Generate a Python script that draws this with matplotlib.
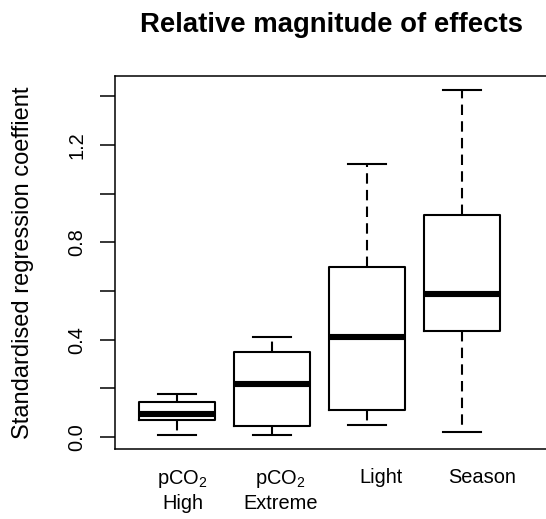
import numpy as np
import matplotlib.pyplot as plt

plt.rcParams['font.family'] = ['Liberation Sans', 'DejaVu Sans']
plt.rcParams['mathtext.fontset'] = 'custom'
plt.rcParams['mathtext.rm'] = 'Liberation Sans'
plt.rcParams['mathtext.it'] = 'Liberation Sans:italic'

# Box summaries per effect
groups = ['pCO$_2$\nHigh', 'pCO$_2$\nExtreme', 'Light', 'Season']
whisker_low = [0.010, 0.007, 0.051, 0.019]
q1 = [0.069, 0.045, 0.112, 0.435]
median = [0.096, 0.219, 0.413, 0.588]
q3 = [0.144, 0.351, 0.700, 0.911]
whisker_high = [0.177, 0.411, 1.122, 1.427]

# group labels sit slightly right of the boxes
label_pos = [1.06, 2.09, 3.15, 4.21]

stats = [dict(whislo=lo, q1=a, med=m, q3=b, whishi=hi, label=g)
         for g, lo, a, m, b, hi in zip(groups, whisker_low, q1, median, q3, whisker_high)]
positions = np.arange(1, len(groups) + 1)

fig = plt.figure(figsize=(5.46, 5.19), dpi=100)
ax = fig.add_axes([115 / 546, 70 / 519, 456 / 546, 373 / 519])

ax.bxp(stats, positions=positions, widths=0.8, capwidths=0.4, showfliers=False,
       boxprops=dict(color='black', lw=1.5),
       medianprops=dict(color='black', lw=4.4, solid_capstyle='butt'),
       whiskerprops=dict(color='black', lw=1.5, ls=(0, (5, 3))),
       capprops=dict(color='black', lw=1.5))

# box 1 centred ~62 px in from the left spine, 95 px per group
x0 = 1 - 62 / 95
ax.set_xlim(x0, x0 + 456 / 95)
ax.set_ylim(-0.049, 1.484)

# y axis: ticks every 0.2, labels every 0.4 (rotated like base R)
ax.set_yticks(np.arange(0, 1.41, 0.2))
ax.set_yticklabels(['0.0', '', '0.4', '', '0.8', '', '1.2', ''],
                   rotation=90, va='center', fontsize=14.4)
ax.tick_params(axis='y', length=10.8, width=1.1, pad=10)
ax.set_xticks(label_pos)
ax.set_xticklabels(groups, fontsize=14.4, linespacing=1.25)
ax.tick_params(axis='x', length=0, pad=14)

for s in ax.spines.values():
    s.set_linewidth(1.1)

ax.set_ylabel('Standardised regression coeffient', fontsize=17)
ax.yaxis.set_label_coords(-0.178, 0.5)
fig.text(332 / 546, 1 - 32 / 519, 'Relative magnitude of effects',
         ha='center', va='baseline', fontsize=19.8, fontweight='bold')

fig.savefig('out.png', dpi=100)
